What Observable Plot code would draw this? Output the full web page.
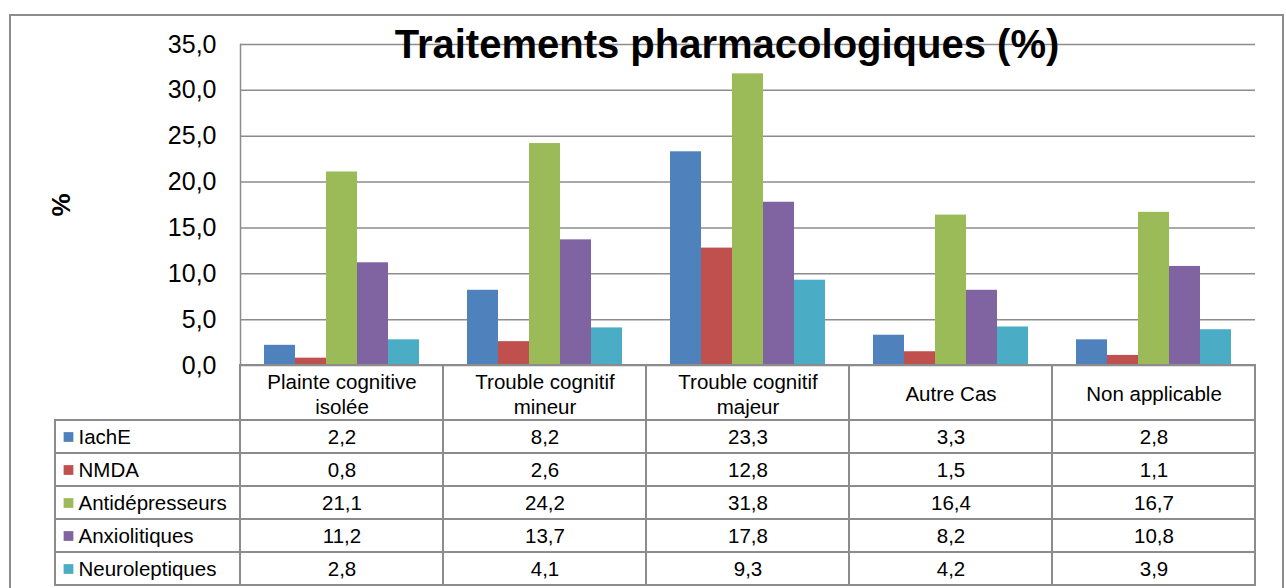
<!DOCTYPE html>
<html><head><meta charset="utf-8">
<script src="https://cdn.jsdelivr.net/npm/d3@7"></script>
<script src="https://cdn.jsdelivr.net/npm/@observablehq/plot@0.6"></script>
<style>
body{margin:0;background:#fff;}
#root{position:relative;width:1286px;height:588px;overflow:hidden;background:#fff;font-family:"Liberation Sans",Arial,sans-serif;}
#frame{position:absolute;left:9px;top:14px;width:1275px;height:620px;border:2px solid #8c8c8c;box-sizing:border-box;}
#chart{position:absolute;left:0;top:0;}
#table{position:absolute;left:0;top:365px;}
#title{position:absolute;left:727px;top:24px;transform:translateX(-50%);white-space:nowrap;font-weight:bold;font-size:40px;line-height:1;color:#000;}
</style></head>
<body><div id="root"><div id="frame"></div><div id="chart"></div><div id="table"></div><div id="title">Traitements pharmacologiques (%)</div></div>
<script>
const categories = ["Plainte cognitive isolée", "Trouble cognitif mineur", "Trouble cognitif majeur", "Autre Cas", "Non applicable"];
const categoryLabels = ["Plainte cognitive\nisolée", "Trouble cognitif\nmineur", "Trouble cognitif\nmajeur", "Autre Cas", "Non applicable"];
const series = ["IachE", "NMDA", "Antidépresseurs", "Anxiolitiques", "Neuroleptiques"];
const colors = ["#4F81BD", "#C0504D", "#9BBB59", "#8064A2", "#4BACC6"];
const iachE = [2.2, 8.2, 23.3, 3.3, 2.8];
const nmda = [0.8, 2.6, 12.8, 1.5, 1.1];
const antidepresseurs = [21.1, 24.2, 31.8, 16.4, 16.7];
const anxiolitiques = [11.2, 13.7, 17.8, 8.2, 10.8];
const neuroleptiques = [2.8, 4.1, 9.3, 4.2, 3.9];
const yTicks = [0, 5, 10, 15, 20, 25, 30, 35];

const values = [iachE, nmda, antidepresseurs, anxiolitiques, neuroleptiques];
const rows = series.flatMap((s, si) => values[si].map((v, ci) => ({cat: categories[ci], series: s, value: v})));
const fmt = d => d.toFixed(1).replace(".", ",");
const gray = "#8c8c8c";
const font = "'Liberation Sans', Arial, sans-serif";

const chart = Plot.plot({
  width: 1286, height: 366,
  marginTop: 44, marginBottom: 1, marginLeft: 239, marginRight: 31,
  style: {background: "transparent", fontFamily: font, color: "black", overflow: "visible"},
  fx: {domain: categories, padding: 0, axis: null},
  x: {domain: series, paddingInner: 0, paddingOuter: 0.75, axis: null},
  y: {domain: [0, 35], axis: null},
  color: {domain: series, range: colors},
  marks: [
    Plot.gridY(yTicks, {stroke: gray, strokeOpacity: 1, strokeWidth: 1.5}),
    Plot.frame({anchor: "left", facetAnchor: "left", stroke: gray, strokeWidth: 1.5}),
    Plot.axisY(yTicks, {tickSize: 0, tickPadding: 24, fontSize: 25, tickFormat: fmt, label: null}),
    Plot.text(["%"], {frameAnchor: "left", dx: -179, rotate: -90, textAnchor: "middle", lineAnchor: "middle", fontWeight: "bold", fontSize: 26, facetAnchor: "left"}),
    Plot.barY(rows, {fx: "cat", x: "series", y: "value", fill: "series"})
  ]
});
document.getElementById("chart").append(chart);

const table = Plot.plot({
  width: 1286, height: 223,
  marginTop: 55, marginBottom: 3, marginLeft: 239, marginRight: 31,
  style: {background: "transparent", fontFamily: font, color: "black", overflow: "visible"},
  x: {domain: categories, padding: 0, axis: null},
  y: {domain: series, padding: 0, axis: null},
  color: {domain: series, range: colors},
  marks: [
    Plot.cell(series, {y: d => d, insetLeft: -184, fill: "none", stroke: gray, strokeWidth: 2}),
    Plot.cell(categories, {x: d => d, insetTop: -55, fill: "none", stroke: gray, strokeWidth: 2}),
    Plot.cell(rows, {x: "cat", y: "series", fill: "none", stroke: gray, strokeWidth: 2}),
    Plot.text(categories, {x: d => d, text: (d, i) => categoryLabels[i], frameAnchor: "top", lineAnchor: "middle", dy: -27, fontSize: 20.5, lineHeight: 1.2}),
    Plot.dot(series, {y: d => d, frameAnchor: "left", dx: -171, symbol: "square", fill: d => d, r: 5.5}),
    Plot.text(series, {y: d => d, frameAnchor: "left", dx: -161, textAnchor: "start", fontSize: 20.5}),
    Plot.text(rows, {x: "cat", y: "series", text: d => fmt(d.value), fontSize: 20.5})
  ]
});
document.getElementById("table").append(table);
</script></body></html>
